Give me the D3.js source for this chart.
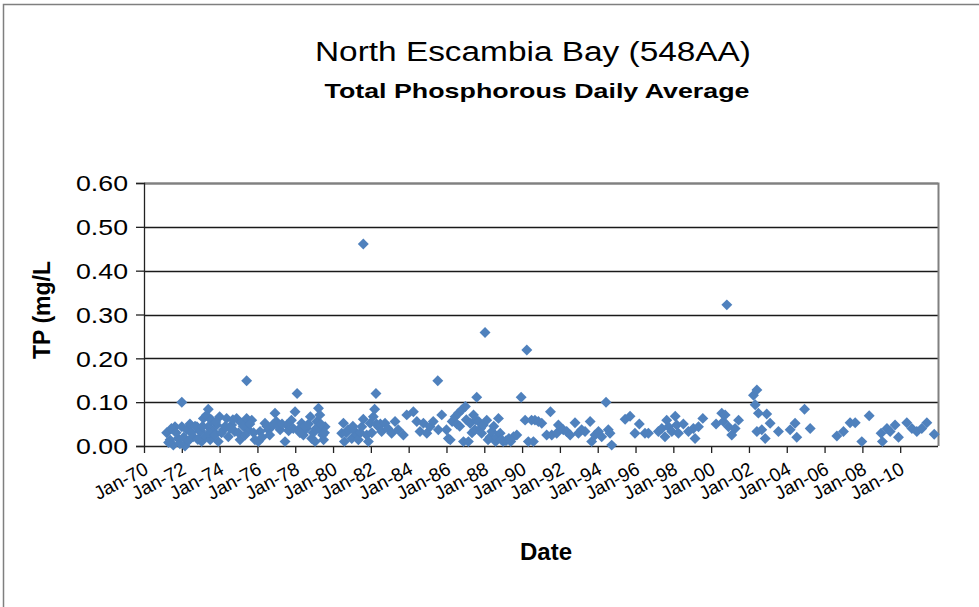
<!DOCTYPE html>
<html><head><meta charset="utf-8">
<script src="https://cdn.jsdelivr.net/npm/d3@7"></script>
<style>body{margin:0;background:#fff}svg{display:block;font-family:"Liberation Sans",Arial,sans-serif}</style>
</head><body>
<svg id="c" width="979" height="607"></svg>
<script>
const sampleYears = [
1971.2,1971.38,1971.55,1971.64,1971.8,1972.0,1972.0,1972.17,1972.26,1972.43,1972.6,1972.8,1972.96,1973.05,1973.14,1973.23,1973.4,1973.4,1973.5,1973.58,1973.67,1973.85,1973.93,1974.0,1974.2,1974.37,1974.46,1974.64,1974.8,1974.9,1975.08,1975.17,1975.43,1975.43,1975.52,1975.7,1975.87,1976.05,1976.14,1976.4,1976.58,1976.75,1976.93,1977.0,1977.2,1977.46,1977.55,1977.8,1977.99,1978.1,1978.17,1978.34,1978.43,1978.6,1978.8,1978.87,1979.05,1979.14,1979.23,1979.3,1979.4,1979.5,1979.58,
1971.3,1971.45,1971.7,1971.9,1972.1,1972.35,1972.5,1972.7,1972.85,1973.0,1973.1,1973.3,1973.45,1973.55,1973.75,1973.8,1974.1,1974.3,1974.55,1974.7,1975.0,1975.25,1975.35,1975.6,1975.8,1976.25,1976.5,1976.65,1976.85,1977.1,1977.3,1977.65,1977.9,1978.25,1978.5,1978.7,1978.95,1979.1,1979.35,1979.45,1979.55,
1980.46,1980.55,1980.6,1980.7,1980.8,1980.99,1981.05,1981.16,1981.25,1981.34,1981.45,1981.52,1981.6,1981.6,1981.78,1981.87,1981.96,1982.05,1982.13,1982.2,1982.27,1982.3,1982.4,1982.5,1982.57,1982.75,1982.9,1983.1,1983.28,1983.45,1983.72,1983.9,1984.25,1984.43,1984.6,1984.78,1984.96,1985.13,1985.3,1985.54,1985.57,1985.75,1986.0,1986.1,1986.2,1986.3,1986.46,1986.55,1986.63,1986.7,1986.8,1986.9,1987.0,1987.05,1987.16,1987.25,1987.35,1987.43,1987.5,1987.55,1987.6,1987.7,1987.8,1987.86,1987.95,1988.04,1988.13,1988.2,1988.3,1988.4,1988.5,1988.6,1988.65,1988.75,1988.84,1988.9,1989.0,1989.15,1989.3,1989.4,1989.55,1989.72,1989.95,1990.16,1990.25,1990.33,1990.5,
1990.6,1990.68,1990.86,1991.04,1991.3,1991.5,1991.57,1991.83,1991.92,1992.18,1992.36,1992.54,1992.8,1992.98,1993.15,1993.33,1993.6,1993.68,1993.86,1994.04,1994.21,1994.44,1994.56,1994.65,1994.74,1995.45,1995.71,1995.97,1996.2,1996.5,1996.68,1997.21,1997.39,1997.56,1997.65,1997.74,1997.92,1998.1,1998.18,1998.27,1998.53,1998.8,1999.06,1999.15,1999.33,1999.56,2000.26,2000.56,2000.65,
2000.74,2000.83,2000.92,2001.09,2001.27,2001.45,2002.24,2002.33,2002.42,2002.42,2002.5,2002.68,2002.86,2002.94,2003.12,2003.56,2004.18,2004.44,2004.53,2004.94,2005.24,2006.65,2007.0,2007.35,2007.62,2007.97,2008.36,2008.99,2009.06,2009.3,2009.47,2009.73,2009.91,2010.35,2010.62,2010.88,2011.14,2011.41,2011.8
];
const tpValues = [
0.030,0.014,0.002,0.044,0.017,0.100,0.044,0.000,0.037,0.050,0.021,0.044,0.033,0.010,0.063,0.021,0.084,0.044,0.014,0.059,0.033,0.048,0.010,0.067,0.037,0.063,0.021,0.048,0.033,0.063,0.014,0.052,0.149,0.063,0.037,0.059,0.014,0.010,0.033,0.052,0.037,0.044,0.075,0.056,0.037,0.010,0.048,0.059,0.078,0.120,0.037,0.052,0.025,0.040,0.067,0.017,0.010,0.056,0.086,0.071,0.033,0.014,0.044,
0.008,0.040,0.030,0.005,0.020,0.012,0.030,0.045,0.015,0.035,0.045,0.070,0.030,0.060,0.025,0.055,0.030,0.045,0.040,0.060,0.030,0.045,0.025,0.050,0.030,0.020,0.045,0.025,0.050,0.045,0.050,0.035,0.040,0.030,0.045,0.050,0.030,0.040,0.050,0.025,0.030,
0.029,0.052,0.010,0.030,0.037,0.017,0.045,0.033,0.025,0.014,0.030,0.044,0.061,0.461,0.025,0.010,0.052,0.030,0.067,0.084,0.120,0.050,0.044,0.050,0.033,0.052,0.040,0.029,0.056,0.037,0.025,0.071,0.078,0.056,0.033,0.052,0.029,0.044,0.056,0.149,0.037,0.071,0.037,0.017,0.014,0.056,0.067,0.050,0.075,0.045,0.082,0.010,0.090,0.060,0.010,0.052,0.030,0.071,0.037,0.060,0.111,0.056,0.040,0.029,0.048,0.259,0.059,0.014,0.020,0.033,0.045,0.010,0.020,0.063,0.029,0.015,0.010,0.012,0.017,0.010,0.021,0.025,0.111,0.059,0.219,0.010,0.059,
0.010,0.059,0.056,0.052,0.025,0.078,0.025,0.029,0.048,0.037,0.033,0.025,0.053,0.029,0.037,0.033,0.056,0.010,0.025,0.033,0.021,0.100,0.037,0.029,0.002,0.061,0.068,0.029,0.050,0.029,0.029,0.033,0.040,0.021,0.059,0.044,0.033,0.068,0.048,0.029,0.050,0.033,0.040,0.017,0.044,0.063,0.050,0.075,0.056,
0.071,0.322,0.044,0.025,0.040,0.059,0.116,0.094,0.128,0.033,0.075,0.037,0.017,0.073,0.052,0.033,0.037,0.052,0.020,0.084,0.040,0.023,0.033,0.053,0.053,0.010,0.069,0.029,0.010,0.040,0.033,0.048,0.020,0.053,0.040,0.033,0.040,0.053,0.027
];
const tickYears = [1970,1972,1974,1976,1978,1980,1982,1984,1986,1988,1990,1992,1994,1996,1998,2000,2002,2004,2006,2008,2010];
const tickLabels = ["Jan-70","Jan-72","Jan-74","Jan-76","Jan-78","Jan-80","Jan-82","Jan-84","Jan-86","Jan-88","Jan-90","Jan-92","Jan-94","Jan-96","Jan-98","Jan-00","Jan-02","Jan-04","Jan-06","Jan-08","Jan-10"];
const yTicks = [0,0.1,0.2,0.3,0.4,0.5,0.6];
const yTickLabels = ["0.00","0.10","0.20","0.30","0.40","0.50","0.60"];

const svg = d3.select("#c");
const L=144, R=938, T=183, B=446;
const x = d3.scaleLinear().domain([1970,2012]).range([L,R]);
const y = d3.scaleLinear().domain([0,0.6]).range([B,T]);

// outer frame
svg.append("rect").attr("x",3.5).attr("y",4.5).attr("width",1000).attr("height",1000)
  .attr("fill","none").attr("stroke","#7f7f7f").attr("stroke-width",1.5);

// gridlines
svg.append("g").selectAll("line").data(yTicks.slice(1)).join("line")
  .attr("x1",L).attr("x2",R).attr("y1",d=>Math.round(y(d))+0.5).attr("y2",d=>Math.round(y(d))+0.5)
  .attr("stroke","#1a1a1a").attr("stroke-width",1.3);
// plot border top/right
svg.append("path").attr("d",`M${L},${T+0.5}H${R+0.5}V${B}`).attr("fill","none").attr("stroke","#808080").attr("stroke-width",2);

// y axis
const ya = svg.append("g").attr("transform",`translate(${L},0)`)
  .call(d3.axisLeft(y).tickValues(yTicks).tickSize(8).tickFormat((d,i)=>yTickLabels[i]));
ya.select(".domain").attr("stroke","#222").attr("stroke-width",1.3);
ya.selectAll(".tick line").attr("stroke","#222").attr("stroke-width",1.3);
ya.selectAll("text").attr("font-size",22).attr("fill","#000").attr("x",-16).attr("dy","0.35em")
  .attr("font-family","Liberation Sans, Arial, sans-serif")
  .attr("textLength",52).attr("lengthAdjust","spacingAndGlyphs");

// x axis
const xa = svg.append("g").attr("transform",`translate(0,${B})`)
  .call(d3.axisBottom(x).tickValues(tickYears).tickSize(7).tickFormat((d,i)=>tickLabels[i]));
xa.select(".domain").attr("stroke","#222").attr("stroke-width",1.3).attr("d",`M${L},0.5H${R}`);
xa.selectAll(".tick line").attr("stroke","#222").attr("stroke-width",1.3);
xa.selectAll("text").attr("font-size",19).attr("fill","#000")
  .attr("font-family","Liberation Sans, Arial, sans-serif")
  .attr("text-anchor","end").attr("y",0).attr("dy",0)
  .attr("transform","translate(5,27) rotate(-28)");

// points
const diamond = d3.symbol().type(d3.symbolSquare).size(60)();
svg.append("g").selectAll("path").data(sampleYears.map((yr,i)=>[yr,tpValues[i]])).join("path")
  .attr("d",diamond).attr("fill","#4f81bd")
  .attr("transform",d=>`translate(${x(d[0])},${y(d[1])}) rotate(45)`);

// titles
svg.append("text").attr("x",533).attr("y",61).attr("text-anchor","middle").attr("font-size",27)
  .attr("textLength",436).attr("lengthAdjust","spacingAndGlyphs").text("North Escambia Bay (548AA)");
svg.append("text").attr("x",537).attr("y",98).attr("text-anchor","middle").attr("font-size",21).attr("font-weight","bold")
  .attr("textLength",425).attr("lengthAdjust","spacingAndGlyphs").text("Total Phosphorous Daily Average");
svg.append("text").attr("transform","translate(50,310) rotate(-90)").attr("text-anchor","middle")
  .attr("font-size",23).attr("font-weight","bold").text("TP (mg/L");
svg.append("text").attr("x",546).attr("y",560).attr("text-anchor","middle")
  .attr("font-size",24).attr("font-weight","bold").text("Date");
</script>
</body></html>
